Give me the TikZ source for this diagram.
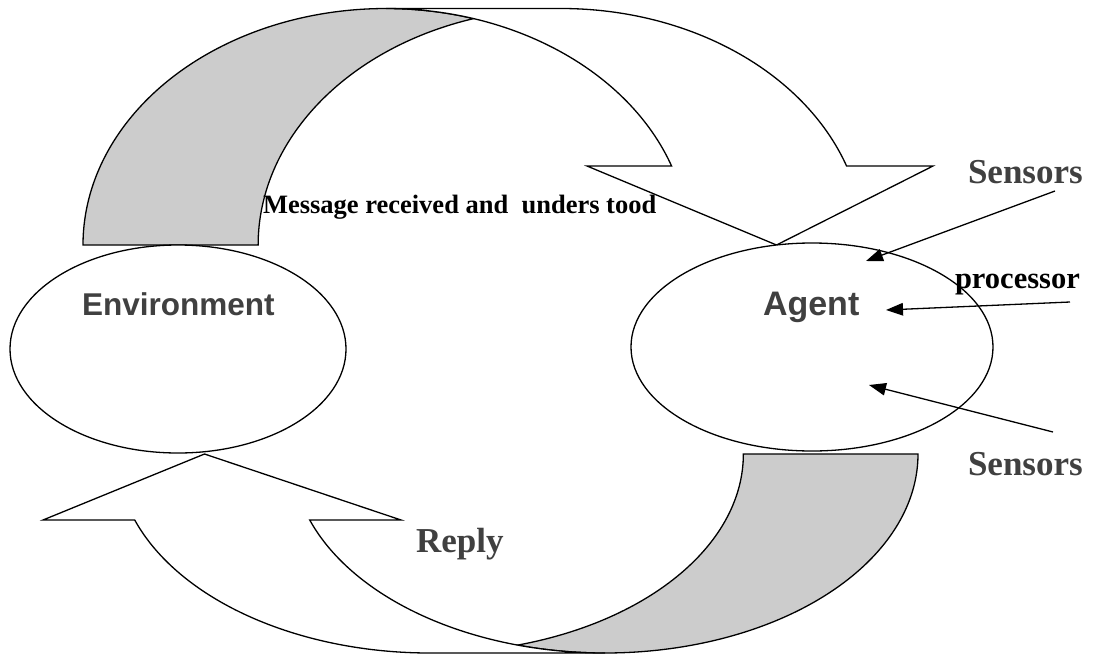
\documentclass[tikz,border=0pt]{standalone}
\usepackage{fontspec}
\setmainfont{Liberation Serif}
\setsansfont{Liberation Sans}
\usetikzlibrary{shapes.geometric,arrows.meta}
\definecolor{bandgray}{HTML}{CCCCCC}
\definecolor{labelgray}{HTML}{404040}

\begin{document}
\begin{tikzpicture}[x=1pt,y=-1pt,
  outline/.style={draw=black,line width=1.3pt},
  backband/.style={outline,fill=bandgray},
  frontband/.style={outline,fill=white},
  place/.style={ellipse,outline,fill=white,inner sep=0pt,outer sep=0pt},
  txt/.style={anchor=base west,inner sep=0pt,outer sep=0pt},
  placelabel/.style={txt,text=labelgray},
  pointer/.style={line width=1.3pt,-{Triangle[length=17pt,width=12.5pt]}}]

% canvas
\useasboundingbox[fill=white] (0,0) rectangle (1096,654);

% upper curved arrow: back band (shaded) and front band with head
\path[backband] (83,245)
  arc[start angle=180,end angle=286.8,x radius=303,y radius=236.5]
  arc[start angle=253.2,end angle=180,x radius=303,y radius=236.5] -- cycle;
\path[frontband] (587,166)
  -- ([shift={(340.49:303 and 236.5)}]386,245)
  arc[start angle=340.49,end angle=270,x radius=303,y radius=236.5]
  -- ([shift={(270:303 and 236.5)}]561,245)
  arc[start angle=270,end angle=340.49,x radius=303,y radius=236.5]
  -- (933,166) -- (776.5,245) -- cycle;

% lower curved arrow: back band (shaded) and front band with head
\path[backband] (918,454)
  arc[start angle=0,end angle=106.2,x radius=313,y radius=199]
  arc[start angle=73.8,end angle=0,x radius=313,y radius=199] -- cycle;
\path[frontband] (401,520)
  -- ([shift={(160.63:313 and 199)}]605,454)
  arc[start angle=160.63,end angle=90,x radius=313,y radius=199]
  -- ([shift={(90:313 and 199)}]430,454)
  arc[start angle=90,end angle=160.63,x radius=313,y radius=199]
  -- (43,520) -- (204.5,454) -- cycle;

% the two parties
\node[place,minimum width=336pt,minimum height=208pt] (env) at (178,349) {};
\node[place,minimum width=362pt,minimum height=208pt] (agent) at (812,347) {};

\node[placelabel,font={\sffamily\bfseries\fontsize{31.5}{36}\selectfont}] (envtext) at (82,315) {Environment};
\node[placelabel,font={\sffamily\bfseries\fontsize{34}{38}\selectfont}] (agenttext) at (763,315) {Agent};

% labels of the loop
\node[txt,font={\bfseries\fontsize{26.5}{30}\selectfont}] (msg) at (263,213) {Message received and~~unders tood};
\node[placelabel,font={\bfseries\fontsize{35}{40}\selectfont}] (reply) at (416,552) {Reply};

% parts of the agent
\node[placelabel,font={\bfseries\fontsize{35}{40}\selectfont}] (sensA) at (968,183) {Sensors};
\node[txt,font={\bfseries\fontsize{30.5}{34}\selectfont}] (proc) at (955,288) {processor};
\node[placelabel,font={\bfseries\fontsize{35}{40}\selectfont}] (sensB) at (968,475) {Sensors};

\coordinate (sensAfrom) at (1055,191);
\coordinate (sensAto) at (866,261);
\coordinate (procfrom) at (1070,302);
\coordinate (procto) at (886,310);
\coordinate (sensBfrom) at (1053,432);
\coordinate (sensBto) at (869,385);

\draw[pointer] (sensAfrom) -- (sensAto);
\draw[pointer] (procfrom) -- (procto);
\draw[pointer] (sensBfrom) -- (sensBto);
\end{tikzpicture}
\end{document}
